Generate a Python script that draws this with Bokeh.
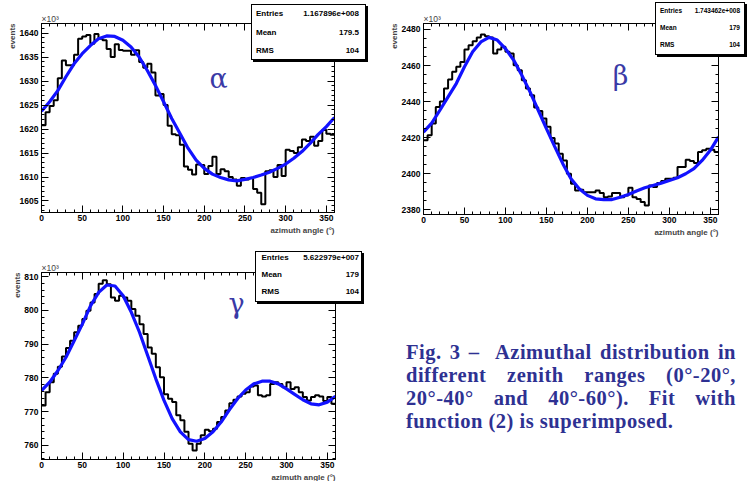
import math
from bokeh.plotting import figure
from bokeh.models import Range1d, FixedTicker, LinearAxis, Title, Div
from bokeh.layouts import row, column
from bokeh.embed import file_html
from bokeh.resources import INLINE
from bokeh.core.properties import value

# ---------------- data (units of 10^3 events) ----------------
bin_edges = list(range(0, 365, 5))          # 72 bins of 5 degrees
x_major = [0, 50, 100, 150, 200, 250, 300, 350]

alpha_counts = [1620.8, 1623.5, 1624.8, 1626.0, 1630.6, 1634.3, 1633.3, 1633.3, 1635.5, 1638.8,
                1639.3, 1639.6, 1637.8, 1639.8, 1638.8, 1638.5, 1636.7, 1635.0, 1637.7, 1636.5,
                1636.3, 1636.3, 1635.5, 1636.4, 1634.0, 1632.8, 1633.6, 1631.8, 1627.0, 1627.3,
                1625.0, 1620.7, 1618.9, 1618.7, 1616.7, 1612.2, 1611.5, 1610.5, 1612.6, 1612.5,
                1610.6, 1612.3, 1614.2, 1610.6, 1611.6, 1611.2, 1610.0, 1609.5, 1608.2, 1609.8,
                1609.5, 1609.8, 1607.5, 1606.7, 1604.3, 1611.2, 1611.4, 1610.0, 1612.5, 1610.2,
                1615.7, 1615.4, 1615.0, 1616.2, 1617.8, 1617.5, 1618.4, 1616.5, 1617.5, 1619.8,
                1619.0, 1618.8]
beta_counts = [2418.5, 2421.3, 2427.8, 2437.0, 2440.0, 2447.2, 2452.2, 2456.5, 2459.3, 2462.0,
               2468.9, 2471.3, 2473.5, 2475.6, 2477.2, 2476.3, 2475.6, 2466.7, 2468.9, 2470.4,
               2467.6, 2466.7, 2460.2, 2457.4, 2451.9, 2447.2, 2443.5, 2436.7, 2434.8, 2430.6,
               2426.0, 2419.8, 2416.7, 2411.1, 2407.4, 2400.0, 2394.4, 2390.7, 2391.1, 2389.8,
               2389.8, 2389.8, 2390.7, 2389.3, 2387.0, 2387.4, 2389.3, 2389.3, 2387.0, 2388.0,
               2392.2, 2387.0, 2386.0, 2384.3, 2382.4, 2393.5, 2392.6, 2394.8, 2396.0, 2397.2,
               2397.2, 2397.8, 2403.7, 2403.7, 2407.8, 2407.0, 2405.9, 2412.0, 2413.0, 2413.9,
               2413.3, 2412.0]
gamma_counts = [771.8, 775.7, 778.7, 781.2, 783.3, 786.3, 788.8, 791.0, 793.5, 795.4,
                797.4, 799.9, 802.3, 804.8, 807.9, 808.9, 807.7, 803.8, 802.8, 804.3,
                803.8, 802.8, 800.4, 798.4, 795.9, 793.0, 789.0, 787.1, 783.1, 780.2,
                775.1, 773.8, 772.8, 768.9, 767.4, 764.0, 760.5, 758.5, 760.5, 763.0,
                764.6, 764.2, 764.9, 766.9, 768.4, 770.3, 772.5, 773.5, 774.5, 775.3,
                775.7, 777.4, 777.7, 774.8, 774.5, 774.8, 778.2, 778.7, 778.2, 777.2,
                778.7, 776.7, 777.2, 775.7, 774.3, 773.3, 774.3, 774.8, 774.5, 773.1,
                774.3, 772.3]

fit_x = list(range(0, 370, 10))
alpha_fit = [1623.7, 1625.7, 1628.0, 1630.9, 1633.6, 1635.7, 1637.4, 1638.8, 1639.4, 1639.3,
             1638.5, 1637.1, 1635.0, 1632.2, 1629.1, 1625.7, 1622.2, 1619.1, 1616.0, 1613.5,
             1611.8, 1610.6, 1609.9, 1609.4, 1609.2, 1609.5, 1609.9, 1610.4, 1611.0, 1611.8,
             1612.7, 1613.9, 1615.3, 1617.0, 1618.9, 1620.5, 1622.4]
beta_fit = [2423.1, 2428.1, 2435.2, 2442.6, 2450.0, 2459.3, 2467.6, 2473.1, 2475.6, 2474.1,
            2469.4, 2463.0, 2454.6, 2445.4, 2435.2, 2425.0, 2415.2, 2405.6, 2397.2, 2391.7,
            2388.0, 2386.1, 2385.6, 2385.7, 2387.0, 2388.5, 2390.4, 2392.2, 2393.5, 2394.8,
            2396.3, 2397.8, 2400.0, 2402.8, 2407.4, 2413.0, 2420.4]
gamma_fit = [776.2, 778.7, 782.1, 786.1, 791.0, 795.9, 801.3, 805.3, 807.5, 807.2,
             804.3, 799.4, 793.5, 786.6, 779.7, 773.3, 767.9, 764.0, 761.7, 761.2,
             762.0, 764.0, 766.9, 770.5, 773.8, 776.4, 778.2, 779.0, 779.0, 778.2,
             776.7, 775.1, 773.5, 772.3, 772.0, 772.8, 774.5]

alpha_yticks = [1605, 1610, 1615, 1620, 1625, 1630, 1635, 1640]
beta_yticks = [2380, 2400, 2420, 2440, 2460, 2480]
gamma_yticks = [760, 770, 780, 790, 800, 810]

stat_names = ["Entries", "Mean", "RMS"]
alpha_stats = ["1.167896e+008", "179.5", "104"]
beta_stats = ["1.743462e+008", "179", "104"]
gamma_stats = ["5.622979e+007", "179", "104"]

caption_lines = ["Fig. 3 \u2013&nbsp; Azimuthal distribution in",
                 "different zenith ranges (0\u00b0-20\u00b0,",
                 "20\u00b0-40\u00b0 and 40\u00b0-60\u00b0). Fit with",
                 "function (2) is superimposed."]

FONT = "Liberation Sans"
GREEK_COLOR = "#3a3aa6"
FIT_COLOR = "#1212ff"


def make_panel(counts, fit_y, yr, ymajor, ystep_minor, fw, fh, bl, br, bt, bb, greek, gxy):
    p = figure(frame_width=fw, frame_height=fh, x_range=Range1d(0, 360),
               y_range=Range1d(*yr), output_backend="svg", toolbar_location=None,
               title=None, min_border_left=bl, min_border_right=br, min_border_top=bt,
               min_border_bottom=bb, x_axis_type=None, y_axis_type=None)
    p.grid.visible = False
    p.outline_line_color = "black"
    p.outline_line_width = 1
    p.background_fill_color = "white"
    p.border_fill_color = "white"

    x_minor = [v for v in range(0, 361, 10) if v % 50 != 0]
    lo, hi = ymajor[0] - 15 * ystep_minor, ymajor[-1] + 15 * ystep_minor
    y_minor = []
    v = lo
    while v <= hi + 1e-9:
        if all(abs(v - m) > 1e-6 for m in ymajor):
            y_minor.append(round(v, 6))
        v += ystep_minor
    xt = FixedTicker(ticks=x_major, minor_ticks=x_minor)
    yt = FixedTicker(ticks=ymajor, minor_ticks=y_minor)

    common = dict(major_tick_in=7, major_tick_out=0, minor_tick_in=3, minor_tick_out=0,
                  axis_line_color="black", major_tick_line_color="black",
                  minor_tick_line_color="black", major_tick_line_width=1,
                  minor_tick_line_width=1)
    lab = dict(major_label_text_font=FONT, major_label_text_font_style="bold",
               major_label_text_font_size="8.5px", major_label_text_color="black")
    bx = LinearAxis(ticker=xt, major_label_standoff=2, **common, **lab)
    ly = LinearAxis(ticker=yt, major_label_standoff=3, **common, **lab)
    hidden = dict(major_label_text_font_size="1px", major_label_text_color=None,
                  major_label_standoff=0)
    tx = LinearAxis(ticker=xt, **hidden, **common)
    ry = LinearAxis(ticker=yt, **hidden, **common)
    p.add_layout(bx, "below")
    p.add_layout(ly, "left")
    p.add_layout(tx, "above")
    p.add_layout(ry, "right")

    # axis titles (ROOT style: at the far ends of the axes)
    p.add_layout(Title(text="azimuth angle (\u00b0)", align="right", text_font=FONT,
                       text_font_style="bold", text_font_size="8px", standoff=0,
                       offset=0), "below")
    p.add_layout(Title(text="events", align="right", text_font=FONT,
                       text_font_style="bold", text_font_size="8px", standoff=0,
                       offset=0), "left")
    p.add_layout(Title(text="\u00d710\u00b3", align="left", text_font=FONT,
                       text_font_style="normal", text_font_size="8.5px", standoff=0,
                       offset=0), "above")

    p.step(x=bin_edges, y=counts + [counts[-1]], mode="after", line_color="black",
           line_width=2)
    p.line(x=fit_x, y=fit_y, line_color=FIT_COLOR, line_width=3.2)
    p.text(x=[gxy[0]], y=[gxy[1]], text=[greek], text_font=value("DejaVu Serif"),
           text_font_size="27px", text_color=GREEK_COLOR, text_align="center",
           text_baseline="middle")
    return p


def make_stats(values, w, h, rows_from_top, left_x, right_x, fs, margin):
    """ROOT-like statistics box (white box, black frame, 2px shadow)."""
    bw, bh = w - 2, h - 2
    items = ""
    for name, val, r in zip(stat_names, values, rows_from_top):
        top = r - 6
        items += ('<div style="position:absolute;left:%spx;top:%spx;line-height:10px;">%s</div>'
                  % (left_x - 1, top, name))
        items += ('<div style="position:absolute;right:%spx;top:%spx;line-height:10px;">%s</div>'
                  % (bw - 1 - right_x, top, val))
    html = ('<div style="position:relative;box-sizing:border-box;width:%dpx;height:%dpx;'
            'border:1px solid #000;background:#fff;box-shadow:2px 2px 0 #000;'
            "font-family:'Liberation Sans',sans-serif;font-weight:bold;font-size:%s;"
            'color:#000;white-space:nowrap;">%s</div>' % (bw, bh, fs, items))
    return Div(text=html, width=w, height=h, margin=margin)


pa = make_panel(alpha_counts, alpha_fit, (1602.6, 1642.0), alpha_yticks, 1.0,
                293, 189, 41, 36, 23, 36, "\u03b1", (217.5, 1630.6))
pb = make_panel(beta_counts, beta_fit, (2377.4, 2483.3), beta_yticks, 5.0,
                295, 191, 53, 29, 23, 34, "\u03b2", (240.4, 2454.5))
pg = make_panel(gamma_counts, gamma_fit, (755.8, 811.2), gamma_yticks, 2.0,
                294, 187, 41, 35, 24, 22, "\u03b3", (238.8, 802.0))

# stats boxes overlapping the top-right corner of each frame (like ROOT's TPaveStats)
sa = make_stats(alpha_stats, 117, 58, (9.5, 28.5, 46.5), 5, 108, "8px", (4, 2, 0, -119))
sb = make_stats(beta_stats, 92, 55, (9, 26, 43), 5, 85, "6.5px", (2, 0, 0, -92))
sg = make_stats(gamma_stats, 109, 53, (6.6, 24.3, 41), 6.5, 104, "8px", (3, 6, 0, -115))

inner = "".join(
    '<div style="text-align:justify;text-align-last:%s;">%s</div>'
    % ("justify" if i < len(caption_lines) - 1 else "left", ln)
    for i, ln in enumerate(caption_lines))
div = Div(text=('<div style="width:330px;margin-left:31px;margin-top:88px;'
                "font-family:'Liberation Serif',serif;font-weight:bold;font-size:20.5px;"
                'letter-spacing:0.5px;line-height:23px;color:#2e3192;">%s</div>' % inner),
          width=377, height=233)

layout = column(row(pa, sa, pb, sb), row(pg, sg, div))
open("out.html", "w").write(file_html(layout, INLINE))
